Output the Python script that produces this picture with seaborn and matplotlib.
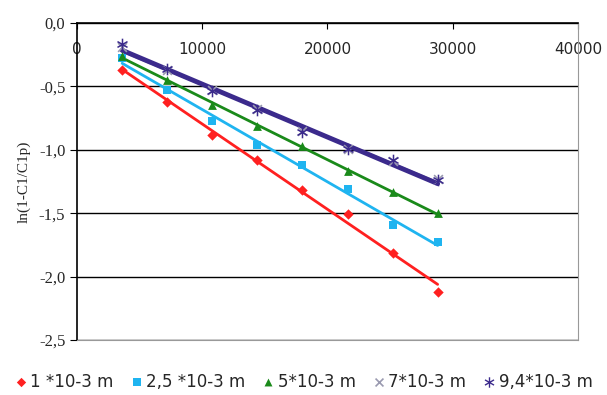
import numpy as np
import pandas as pd
import matplotlib.pyplot as plt
import seaborn as sns

time_s = [3600, 7200, 10800, 14400, 18000, 21600, 25200, 28800]
d_1 = [-0.37, -0.62, -0.88, -1.08, -1.32, -1.51, -1.81, -2.12]
d_2_5 = [-0.28, -0.53, -0.77, -0.96, -1.12, -1.31, -1.59, -1.73]
d_5 = [-0.26, -0.45, -0.65, -0.81, -0.97, -1.17, -1.33, -1.50]
d_7 = [-0.19, -0.37, -0.53, -0.68, -0.85, -0.99, -1.09, -1.23]
d_9_4 = [-0.17, -0.36, -0.54, -0.69, -0.86, -0.99, -1.08, -1.24]

labels = ['1 *10-3 m', '2,5 *10-3 m', '5*10-3 m', '7*10-3 m', '9,4*10-3 m']
colors = ['#ff2020', '#1fb4f0', '#1a8a1a', '#9a9ab0', '#3b2a8c']
markers = ['D', 's', '^', 'x', '$\u2217$']
sizes = [28, 40, 40, 40, 70]
widths = [2.0, 2.0, 2.0, 2.0, 3.5]


def main():
    sns.set_style('white')
    fig = plt.figure(figsize=(6.07, 3.95), dpi=100)
    ax = fig.add_axes([0.127, 0.139, 0.825, 0.803])

    series = [d_1, d_2_5, d_5, d_7, d_9_4]
    for vals, lab, c, m, s, w in zip(series, labels, colors, markers, sizes, widths):
        df = pd.DataFrame({'t': time_s, 'y': vals})
        sns.regplot(data=df, x='t', y='y', ax=ax, ci=None, scatter=False,
                    truncate=True, color=c, line_kws={'lw': w})
        sns.scatterplot(data=df, x='t', y='y', ax=ax, color=c, marker=m,
                        s=s, linewidth=1.2 if m == 'x' else 0, edgecolor=c,
                        label=lab, zorder=5)

    ax.set_xlim(0, 40000)
    ax.set_ylim(-2.5, 0)
    ax.set_yticks(np.arange(-2.5, 0.01, 0.5))
    ax.set_yticklabels([f'{v:.1f}'.replace('.', ',') for v in np.arange(-2.5, 0.01, 0.5)],
                       family='Liberation Serif', fontsize=12)
    ax.set_xticks([0, 10000, 20000, 30000, 40000])
    ax.set_xticklabels(['0', '10000', '20000', '30000', '40000'], fontsize=11)
    ax.xaxis.tick_top()
    ax.tick_params(axis='x', direction='in', pad=-14, length=4, color='black')
    ax.tick_params(axis='y', length=5, color='black', left=True, direction='out')
    for lab in ax.get_xticklabels():
        lab.set_verticalalignment('top')
    ax.grid(axis='y', color='black', lw=1)
    ax.set_axisbelow(True)
    for side in ['left', 'top']:
        ax.spines[side].set_color('black')
        ax.spines[side].set_linewidth(1.2)
    for side in ['right', 'bottom']:
        ax.spines[side].set_color('#999999')
    ax.set_xlabel('')
    ax.set_ylabel('ln(1-C1/C1p)', family='Liberation Serif', fontsize=11, labelpad=6)

    ax.legend(loc='upper center', bbox_to_anchor=(0.45, -0.055), ncol=5,
              frameon=False, handletextpad=0.05, columnspacing=0.9,
              fontsize=12, markerscale=0.9, handlelength=1.0)

    fig.savefig('out.png', dpi=100)


if __name__ == "__main__":
    main()
